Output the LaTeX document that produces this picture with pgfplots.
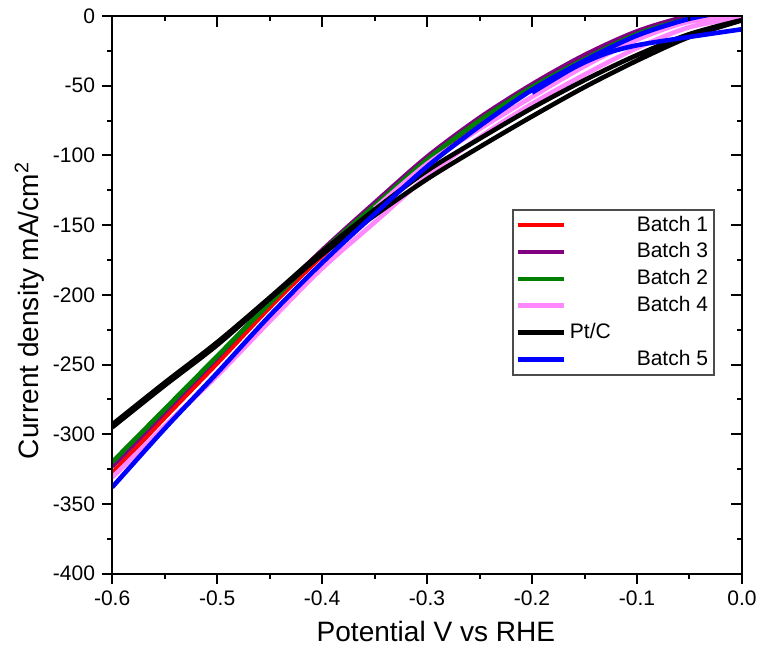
\documentclass[border=0pt]{standalone}
\usepackage{fontspec}
\setmainfont{Liberation Sans}
\usepackage{pgfplots}
\pgfplotsset{compat=1.18}
\usetikzlibrary{calc}

\definecolor{cred}{HTML}{FF0000}
\definecolor{cpurple}{HTML}{800080}
\definecolor{cgreen}{HTML}{008000}
\definecolor{cpink}{HTML}{FF88FF}
\definecolor{cblue}{HTML}{0000FF}

\pgfplotsset{
  frame/.style={width=314.5pt,height=278.5pt,scale only axis,
    xmin=-0.6,xmax=0,ymin=-400,ymax=0,
    xtick={-0.6,-0.5,...,0},minor xtick={-0.55,-0.45,...,-0.05},
    ytick={-400,-350,...,0},minor ytick={-375,-325,...,-25},
    axis line style={line width=1pt},
    major tick length=5pt,minor tick length=2.5pt,
    every tick/.style={black,line width=1pt}},
}

\begin{document}
\begin{tikzpicture}
\begin{axis}[frame,
  tick align=outside,xtick pos=bottom,ytick pos=left,
  /pgf/number format/assume math mode=true,
  tick label style={font=\fontsize{10.5}{12}\selectfont},
  xticklabel style={/pgf/number format/.cd,fixed,fixed zerofill,precision=1},
  yticklabel style={/pgf/number format/.cd,fixed,precision=0},
  xlabel={Potential V vs RHE},
  ylabel={Current density mA/cm\textsuperscript{2}},
  label style={font=\fontsize{14}{16}\selectfont},
  xlabel style={at={(axis description cs:0.514,-0.104)},anchor=center},
  ylabel style={at={(axis description cs:-0.131,0.472)},anchor=center},
  legend image code/.code={\draw[#1] (0pt,0pt) -- (23pt,0pt);},
  legend style={at={(axis description cs:0.957,0.654)},anchor=north east,
    draw=black!70,line width=0.8pt,font=\fontsize{10.5}{12}\selectfont,
    row sep=0.35pt,inner xsep=1pt,inner ysep=1pt},
  legend cell align=left,
  every axis plot/.append style={line width=2.3pt,line join=round,smooth,tension=0.5},
  ]
\addplot[cred] coordinates {
(-0.6,-328) (-0.55,-288) (-0.5,-249) (-0.45,-209) (-0.4,-172) (-0.35,-138)
(-0.3,-104) (-0.25,-75) (-0.2,-50) (-0.15,-29) (-0.1,-12) (-0.05,-1) (0,4)};
\addlegendentry{\makebox[69pt][r]{Batch 1}}
\addplot[cpurple] coordinates {
(-0.6,-323) (-0.55,-284) (-0.5,-245) (-0.45,-205) (-0.4,-168) (-0.35,-134)
(-0.3,-101) (-0.25,-73) (-0.2,-49) (-0.15,-28) (-0.1,-11) (-0.05,0) (0,4)};
\addlegendentry{\makebox[69pt][r]{Batch 3}}
\addplot[cgreen] coordinates {
(-0.6,-320) (-0.55,-282) (-0.5,-244) (-0.45,-206) (-0.4,-169) (-0.35,-136)
(-0.3,-103) (-0.25,-75) (-0.2,-51) (-0.15,-31) (-0.1,-13) (-0.05,-2) (0,2)};
\addlegendentry{\makebox[69pt][r]{Batch 2}}
\addplot[cpink] coordinates {
(-0.6,-331) (-0.55,-294) (-0.5,-258) (-0.45,-219) (-0.4,-181) (-0.35,-148)
(-0.3,-115) (-0.25,-87) (-0.2,-63) (-0.15,-42) (-0.1,-23) (-0.05,-8) (0,-1)
(-0.05,-4) (-0.1,-17) (-0.15,-36) (-0.2,-58) (-0.25,-81) (-0.3,-106) (-0.35,-138)};
\addlegendentry{\makebox[69pt][r]{Batch 4}}
\addplot[black] coordinates {
(-0.6,-293) (-0.55,-263) (-0.5,-234) (-0.45,-202) (-0.4,-169) (-0.35,-139)
(-0.3,-111) (-0.25,-88) (-0.2,-66) (-0.15,-46) (-0.1,-28) (-0.05,-13) (0,-3)
(-0.05,-15) (-0.1,-32) (-0.15,-51) (-0.2,-72) (-0.25,-94) (-0.3,-117)
(-0.35,-143) (-0.4,-171) (-0.45,-203) (-0.5,-236) (-0.55,-265) (-0.6,-295)};
\addlegendentry{\makebox[69pt][l]{Pt/C}}
\addplot[cblue] coordinates {
(-0.6,-338) (-0.55,-296) (-0.5,-256) (-0.45,-215) (-0.4,-177) (-0.35,-142)
(-0.3,-108) (-0.25,-79) (-0.2,-53) (-0.15,-32) (-0.1,-14) (-0.05,-2) (0,5)};
\addlegendentry{\makebox[69pt][r]{Batch 5}}
\addplot[cblue,forget plot] coordinates {
(0,-9.5) (-0.05,-15) (-0.1,-21) (-0.13,-27) (-0.16,-37) (-0.2,-55)};
\coordinate (sw) at (rel axis cs:0,0);
\coordinate (ne) at (rel axis cs:1,1);
\end{axis}
\begin{axis}[frame,
  tick align=inside,xtick pos=top,ytick pos=right,
  major tick length=5.5pt,
  xticklabels={},yticklabels={},
  ]
\end{axis}
\pgfresetboundingbox
\path[use as bounding box] ($(sw)+(-56pt,-44pt)$) rectangle ($(ne)+(8.5pt,8pt)$);
\end{tikzpicture}
\end{document}
